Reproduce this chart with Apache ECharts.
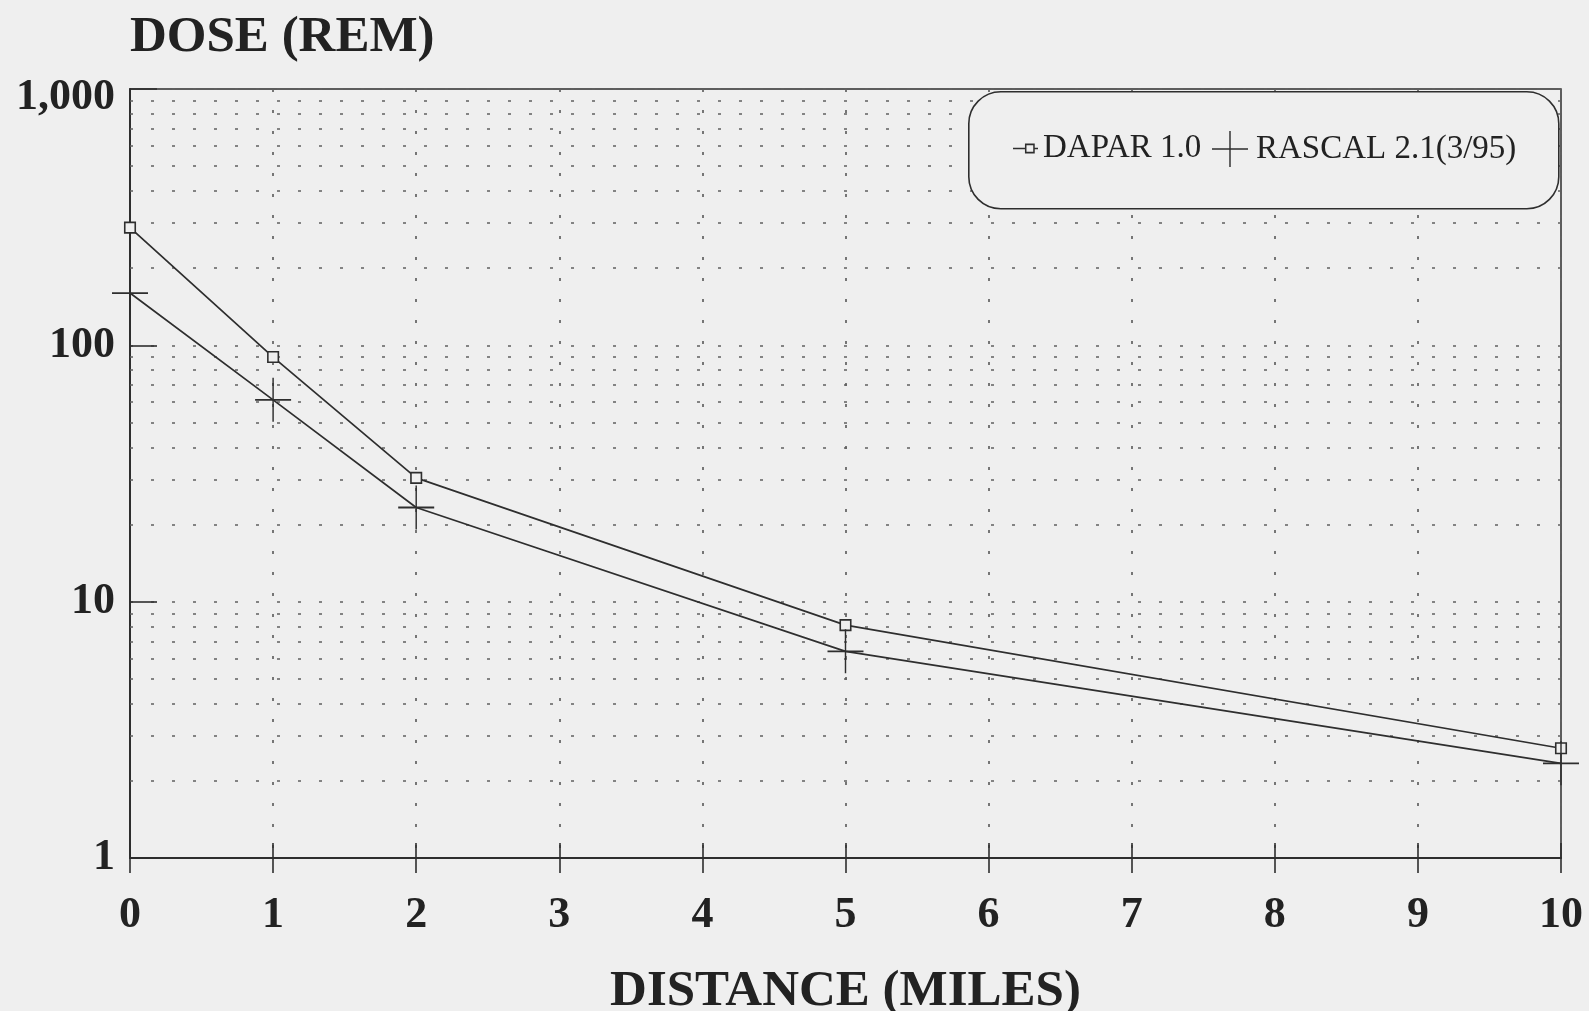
<!DOCTYPE html>
<html><head><meta charset="utf-8">
<script src="https://cdn.jsdelivr.net/npm/echarts@6/dist/echarts.min.js"></script>
<style>html,body{margin:0;padding:0;background:#efefef;} #c{width:1589px;height:1011px;}</style>
</head><body><div id="c"></div>
<script>
const distances = [0, 1, 2, 5, 10];
const daparDose = [288, 90, 30.4, 8.1, 2.68];
const rascalDose = [160, 61.3, 23.3, 6.4, 2.34];
const seriesNames = ['DAPAR 1.0', 'RASCAL 2.1(3/95)'];
const yTickLabels = {1: '1', 10: '10', 100: '100', 1000: '1,000'};
const minorGridValues = [2,3,4,5,6,7,8,9,20,30,40,50,60,70,80,90,200,300,400,500,600,700,800,900];

const ink = '#2e2e2e';
const gridInk = '#606060';
const serif = "'Liberation Serif', 'DejaVu Serif', serif";
const dotted = {type: [3, 18], color: gridInk, width: 1.7};
const plusPath = 'path://M0,48H100V52H0Z M48,0H52V100H48Z';
const squareIcon = 'path://M0,3.8H11V5.2H0Z M11,0H20V9H11Z M12.4,1.4V7.6H18.6V1.4Z M20,3.8H23V5.2H20Z';
const labelFont = {fontFamily: serif, fontWeight: 'bold', fontSize: 44, color: '#222'};

const chart = echarts.init(document.getElementById('c'));
chart.setOption({
  animation: false,
  backgroundColor: '#efefef',
  grid: {left: 130, right: 28, top: 89, bottom: 153, outerBoundsMode: 'none', containLabel: false,
    show: true, borderColor: ink, borderWidth: 1.5, backgroundColor: 'transparent'},
  graphic: [{
    type: 'rect', left: 968, top: 91, z: 5,
    shape: {width: 590, height: 117, r: 32},
    style: {fill: '#efefef', stroke: ink, lineWidth: 1.6}
  }],
  legend: [{
    data: [{name: seriesNames[0], icon: squareIcon, itemStyle: {color: ink, borderWidth: 0}}],
    left: 1013, top: 132, padding: 0, itemWidth: 25, itemHeight: 10, z: 6,
    textStyle: {fontFamily: serif, fontSize: 33, color: '#222'}
  }, {
    data: [{name: seriesNames[1], icon: plusPath, itemStyle: {color: ink, borderWidth: 0}}],
    left: 1212, top: 131, padding: 0, itemWidth: 42, itemHeight: 36, z: 6,
    textStyle: {fontFamily: serif, fontSize: 33, color: '#222'}
  }],
  xAxis: [{
    type: 'value', min: 0, max: 10, interval: 1, position: 'bottom',
    name: 'DISTANCE (MILES)', nameLocation: 'middle', nameGap: 108,
    nameTextStyle: {fontFamily: serif, fontWeight: 'bold', fontSize: 51, color: '#222'},
    axisLine: {onZero: false, lineStyle: {color: ink, width: 2}},
    axisTick: {show: true, inside: false, length: 15, lineStyle: {color: ink, width: 1.6}},
    axisLabel: Object.assign({margin: 36}, labelFont),
    splitLine: {show: true, lineStyle: dotted}
  }, {
    type: 'value', min: 0, max: 10, interval: 1, position: 'bottom',
    axisLine: {show: false, onZero: false},
    axisTick: {show: true, inside: true, length: 15, lineStyle: {color: ink, width: 1.6}},
    axisLabel: {show: false},
    splitLine: {show: false}
  }],
  yAxis: {
    type: 'log', logBase: 10, min: 1, max: 1000,
    name: 'DOSE (REM)', nameLocation: 'end', nameGap: 26,
    nameTextStyle: {fontFamily: serif, fontWeight: 'bold', fontSize: 51, color: '#222', align: 'left', verticalAlign: 'bottom'},
    axisLine: {show: true, lineStyle: {color: ink, width: 2}},
    axisTick: {show: true, inside: true, length: 27, lineStyle: {color: ink, width: 1.6}},
    axisLabel: Object.assign({margin: 15,
      formatter: v => {
        const k = Math.round(v);
        const t = yTickLabels[k] || String(k);
        return k === 1000 ? '{top|' + t + '}' : t;
      },
      rich: {top: Object.assign({padding: [18, 0, 0, 0]}, labelFont)}
    }, labelFont),
    splitLine: {show: true, lineStyle: dotted}
  },
  series: [{
    name: seriesNames[0], type: 'line', xAxisIndex: 0,
    data: distances.map((d, i) => [d, daparDose[i]]),
    symbol: 'rect', symbolSize: 10.5,
    itemStyle: {color: '#efefef', borderColor: ink, borderWidth: 1.6},
    lineStyle: {color: ink, width: 1.7},
    markLine: {
      silent: true, symbol: ['none', 'none'], label: {show: false}, z: 1,
      lineStyle: dotted, emphasis: {disabled: true},
      data: minorGridValues.map(v => ({yAxis: v}))
    }
  }, {
    name: seriesNames[1], type: 'line', xAxisIndex: 0,
    data: distances.map((d, i) => [d, rascalDose[i]]),
    symbol: plusPath, symbolSize: [36, 44],
    itemStyle: {color: ink},
    lineStyle: {color: ink, width: 1.7}
  }]
});
</script></body></html>
